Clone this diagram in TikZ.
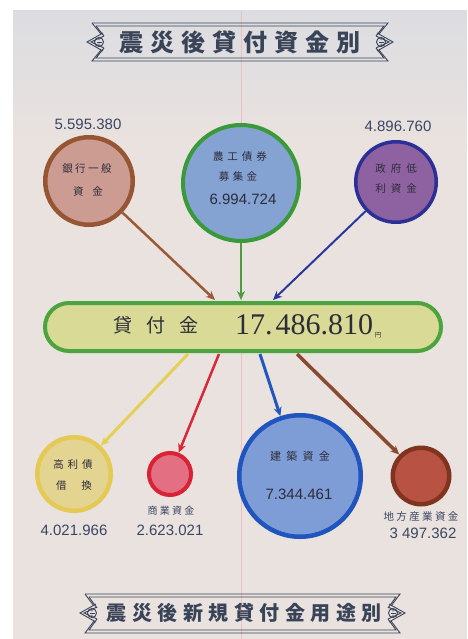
\documentclass[tikz,border=0pt]{standalone}
\usepackage{fontspec}
\setmainfont{Liberation Sans}
\newfontfamily\jp{Noto Sans CJK JP}
\newfontfamily\numf{Liberation Sans}
\newfontfamily\serifnum{Liberation Serif}
\usetikzlibrary{arrows.meta}
\definecolor{paper}{RGB}{234,226,222}
\definecolor{papertop}{RGB}{220,221,225}
\definecolor{bannerc}{RGB}{58,68,88}
\definecolor{numc}{RGB}{58,70,98}
\definecolor{darkc}{RGB}{45,45,58}
\definecolor{bankf}{RGB}{204,156,146}
\definecolor{bankb}{RGB}{150,86,52}
\definecolor{greenb}{RGB}{58,154,58}
\definecolor{greenf}{RGB}{132,162,210}
\definecolor{purf}{RGB}{142,98,160}
\definecolor{purb}{RGB}{44,48,150}
\definecolor{boxf}{RGB}{216,218,150}
\definecolor{boxb}{RGB}{76,164,62}
\definecolor{yelf}{RGB}{228,212,146}
\definecolor{yelb}{RGB}{228,202,84}
\definecolor{redf}{RGB}{226,112,130}
\definecolor{redb}{RGB}{218,34,54}
\definecolor{bluf}{RGB}{126,156,214}
\definecolor{blub}{RGB}{32,84,190}
\definecolor{brnf}{RGB}{184,82,66}
\definecolor{brnb}{RGB}{128,52,32}
\definecolor{arbrown}{RGB}{154,90,54}
\definecolor{argreen}{RGB}{74,158,62}
\definecolor{arblue}{RGB}{42,56,158}
\definecolor{aryel}{RGB}{228,208,86}
\definecolor{arred}{RGB}{216,40,58}
\definecolor{arblu}{RGB}{34,87,192}
\definecolor{arbrn}{RGB}{138,74,48}
\definecolor{fold}{RGB}{242,176,188}
\makeatletter
\def\spr@end{\spr@end}
\newcommand\spread[2]{\def\spr@gap{#1}\spr@first#2\spr@end}
\def\spr@first#1{\ifx#1\spr@end\else#1\expandafter\spr@next\fi}
\def\spr@next#1{\ifx#1\spr@end\else\hspace{\spr@gap}#1\expandafter\spr@next\fi}
\makeatother
\tikzset{
  bline/.style={draw=bannerc, line width=0.9pt},
  btext/.style={text=bannerc, inner sep=0pt},
  cnum/.style={font=\numf\fontsize{15}{15}\selectfont, text=numc, inner sep=0pt},
  innum/.style={font=\numf\fontsize{15}{15}\selectfont, text=darkc, inner sep=0pt},
  ctext/.style={font=\jp\fontsize{10.5}{10.5}\selectfont, text=darkc, inner sep=0pt},
  disc/.style={circle, inner sep=0pt},
  arr/.style={-{Stealth[length=9pt,width=8pt]}, line width=2.5pt},
  orn/.pic={
    \draw[bline] (7,-9) -- (-9,0) -- (7,9);
    \draw[bline] (8,-6) -- (-5,0) -- (8,6);
    \draw[bline] (3,0) circle (4.5);
    \draw[bline, line width=0.6pt] (0.5,0) -- (5.5,0);
    \fill[bannerc] (3,-2.2) circle (0.7) (3,2.2) circle (0.7);
  }
}
\begin{document}
\begin{tikzpicture}[x=1pt,y=-1pt]
\useasboundingbox (0,0) rectangle (467,639);
\fill[white] (0,0) rectangle (467,639);
\fill[paper] (13,11) rectangle (467,639);
\shade[top color=papertop, bottom color=paper] (13,11) rectangle (467,150);
\draw[fold, line width=0.8pt, opacity=0.7] (241,11) -- (241,639);

% top banner
\draw[bline] (92,23) -- (388,23) -- (379,34);
\draw[bline] (379,50) -- (388,61) -- (92,61) -- (101,50);
\draw[bline] (101,34) -- (92,23);
\draw[bline] (96,26) -- (384,26) -- (376,36);
\draw[bline] (376,48) -- (384,58) -- (96,58) -- (104,48);
\draw[bline] (104,36) -- (96,26);
\pic at (96,42) {orn};
\pic[xscale=-1] at (384,42) {orn};
\node[btext, font=\jp\bfseries\fontsize{24}{24}\selectfont] (title1) at (240,42) {\spread{7pt}{震災後貸付資金別}};

% bottom banner
\draw[bline] (85,594) -- (400,594) -- (391,606);
\draw[bline] (391,621) -- (400,633) -- (85,633) -- (94,621);
\draw[bline] (94,606) -- (85,594);
\draw[bline] (89,597) -- (396,597) -- (388,608);
\draw[bline] (388,619) -- (396,630) -- (89,630) -- (97,619);
\draw[bline] (97,608) -- (89,597);
\pic at (89,613) {orn};
\pic[xscale=-1] at (396,613) {orn};
\node[btext, font=\jp\bfseries\fontsize{20}{20}\selectfont] (title2) at (244,613) {\spread{5.5pt}{震災後新規貸付金用途別}};

% source circles
\node[disc, draw=bankb, fill=bankf, line width=4.5pt, minimum size=87.5pt] (bank) at (89,181) {};
\node[disc, draw=greenb, fill=greenf, line width=4pt, minimum size=116pt] (bond) at (241,183) {};
\node[disc, draw=purb, fill=purf, line width=3.5pt, minimum size=80.5pt] (gov) at (396,182) {};

\node[cnum] (bankv) at (88,124) {5.595.380};
\node[ctext] (bankt1) at (87,169) {\spread{2.5pt}{銀行一般}};
\node[ctext] (bankt2) at (88,192) {資\hspace{9pt}金};
\node[ctext] (bondt1) at (240,157) {\spread{4pt}{農工債券}};
\node[ctext] (bondt2) at (238,177) {\spread{3.3pt}{募集金}};
\node[innum] (bondv) at (243,199) {6.994.724};
\node[cnum] (govv) at (398,126) {4.896.760};
\node[ctext] (govt1) at (396,169) {\spread{5pt}{政府低}};
\node[ctext] (govt2) at (396,189) {\spread{5pt}{利資金}};

% main box
\node[draw=boxb, fill=boxf, line width=4pt, rounded corners=24pt, minimum width=396pt, minimum height=48pt, inner sep=0pt] (main) at (243,327) {};
\node[text=darkc, inner sep=0pt, font=\jp\fontsize{19}{19}\selectfont] (maint) at (156,325) {\spread{14pt}{貸付金}};
\node[text=darkc, inner sep=0pt, font=\serifnum\fontsize{30}{30}\selectfont] (mainv) at (304,325) {17.\hspace{3pt}486.810};
\node[text=darkc, inner sep=0pt, font=\jp\fontsize{6.5}{6.5}\selectfont] (yen) at (378,335) {円};

% top arrows
\coordinate (in1) at (215,300);
\coordinate (in2) at (241,300);
\coordinate (in3) at (273,300);
\draw[arr, draw=arbrown, fill=arbrown] (bank) -- (in1);
\draw[arr, draw=argreen, fill=argreen] (bond) -- (in2);
\draw[arr, draw=arblue, fill=arblue, line width=2pt] (gov) -- (in3);

% use circles
\node[disc, draw=yelb, fill=yelf, line width=4.5pt, minimum size=73.5pt] (repay) at (74,474) {};
\node[disc, draw=redb, fill=redf, line width=4pt, minimum size=42pt] (comm) at (170,474) {};
\node[disc, draw=blub, fill=bluf, line width=4.5pt, minimum size=121.5pt] (build) at (300,476) {};
\node[disc, draw=brnb, fill=brnf, line width=4.5pt, minimum size=56.5pt] (local) at (421,476) {};

\coordinate (out1) at (188,354);
\coordinate (out2) at (219,354);
\coordinate (out3) at (260,354);
\coordinate (out4) at (297,354);
\draw[arr, draw=aryel, fill=aryel, line width=3pt] (out1) -- (repay);
\draw[arr, draw=arred, fill=arred] (out2) -- (comm);
\draw[arr, draw=arblu, fill=arblu, line width=3pt] (out3) -- (build);
\draw[arr, draw=arbrn, fill=arbrn, line width=3.5pt] (out4) -- (local);

\node[ctext] (rept1) at (73,465) {\spread{4pt}{高利債}};
\node[ctext] (rept2) at (74,486) {借\hspace{15pt}換};
\node[cnum] (repv) at (74,530) {4.021.966};
\node[ctext, font=\jp\fontsize{10}{10}\selectfont, text=numc] (commt) at (171,511) {\spread{2.3pt}{商業資金}};
\node[cnum] (commv) at (170,530) {2.623.021};
\node[ctext, font=\jp\fontsize{11}{11}\selectfont] (buildt) at (300,456) {\spread{5.3pt}{建築資金}};
\node[innum] (buildv) at (299,494) {7.344.461};
\node[ctext, text=numc] (localt) at (421,517) {\spread{2.4pt}{地方産業資金}};
\node[cnum] (localv) at (423,533) {3 497.362};
\end{tikzpicture}
\end{document}
